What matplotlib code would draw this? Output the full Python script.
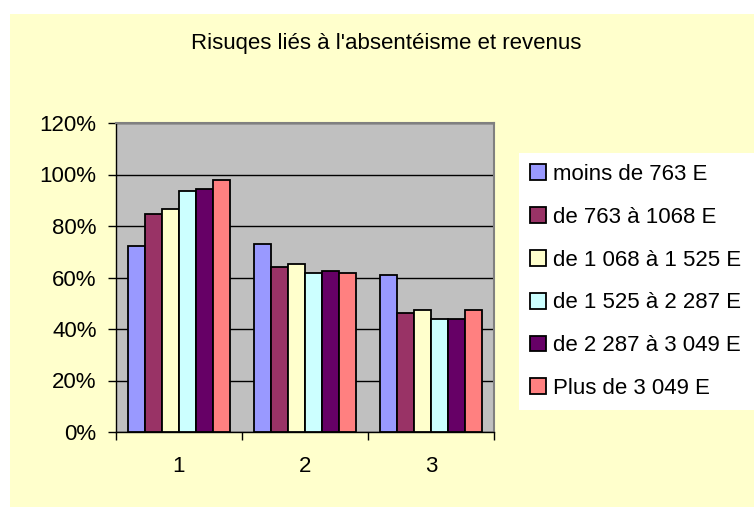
import numpy as np
import matplotlib
matplotlib.use("Agg")
import matplotlib.pyplot as plt
from matplotlib.patches import Rectangle
from matplotlib.ticker import PercentFormatter

plt.rcParams['font.family'] = ['Liberation Sans', 'DejaVu Sans']

# data (percent)
groups = ['1', '2', '3']
series = ['moins de 763 E', 'de 763 à 1068 E', 'de 1 068 à 1 525 E',
          'de 1 525 à 2 287 E', 'de 2 287 à 3 049 E', 'Plus de 3 049 E']
moins_763 = [72.2, 72.9, 60.9]
de_763_1068 = [84.8, 64.2, 46.2]
de_1068_1525 = [86.7, 65.3, 47.2]
de_1525_2287 = [93.4, 61.7, 43.7]
de_2287_3049 = [94.3, 62.6, 43.7]
plus_3049 = [97.7, 61.7, 47.2]
values = [moins_763, de_763_1068, de_1068_1525, de_1525_2287, de_2287_3049, plus_3049]
colors = ['#9999FF', '#993366', '#FFFFCC', '#CCFFFF', '#660066', '#FF8080']

FS = 16
W, H = 754, 508
fig = plt.figure(figsize=(W / 100, H / 100), dpi=100)
fig.patch.set_facecolor('white')
# yellow chart area
fig.add_artist(Rectangle((10 / W, 1 - 507 / H), (W - 10) / W, (507 - 14) / H,
                         transform=fig.transFigure, facecolor='#FFFFCC',
                         edgecolor='none', zorder=-10))

ax = fig.add_axes([116 / W, 1 - 432 / H, (494 - 116) / W, (432 - 123) / H])
ax.set_facecolor('#C0C0C0')

x = np.arange(1, len(groups) + 1)
bw = 0.807 / len(series)
for i, (name, vals, c) in enumerate(zip(series, values, colors)):
    ax.bar(x - 0.807 / 2 + bw * (i + 0.5), vals, width=bw, color=c,
           edgecolor='black', linewidth=1.3, label=name, zorder=3)

ax.set_xlim(0.5, 3.5)
ax.set_ylim(0, 120)
ax.set_yticks(np.arange(0, 121, 20))
ax.yaxis.set_major_formatter(PercentFormatter(decimals=0))
ax.yaxis.grid(True, color='black', linewidth=1, zorder=1)
ax.set_axisbelow(True)

ax.set_xticks(x)
ax.set_xticklabels(groups)
ax.set_xticks([0.5, 1.5, 2.5, 3.5], minor=True)
ax.tick_params(axis='x', which='major', length=0, pad=17, labelsize=FS)
ax.tick_params(axis='x', which='minor', length=6, direction='out', width=1)
ax.tick_params(axis='y', length=6, direction='out', width=1, pad=8, labelsize=FS)

for s in ['top', 'right']:
    ax.spines[s].set_color('#808080')
    ax.spines[s].set_linewidth(1.5)
for s in ['left', 'bottom']:
    ax.spines[s].set_color('black')
    ax.spines[s].set_linewidth(1)

fig.text(386 / W, 1 - 44 / H, "Risuqes liés à l'absentéisme et revenus",
         ha='center', va='center', fontsize=FS)

leg = ax.legend(loc='upper left',
                bbox_to_anchor=(519 / W, 1 - 408 / H, (W - 519) / W, (408 - 153) / H),
                bbox_transform=fig.transFigure, mode='expand', frameon=True,
                fancybox=False, fontsize=FS, handlelength=0.72, handleheight=0.72,
                handletextpad=0.3, labelspacing=0.98, borderaxespad=0,
                borderpad=0.5)
leg.get_frame().set_facecolor('white')
leg.get_frame().set_edgecolor('none')
leg.get_frame().set_alpha(1)

fig.savefig('out.png', dpi=100, facecolor=fig.get_facecolor())
